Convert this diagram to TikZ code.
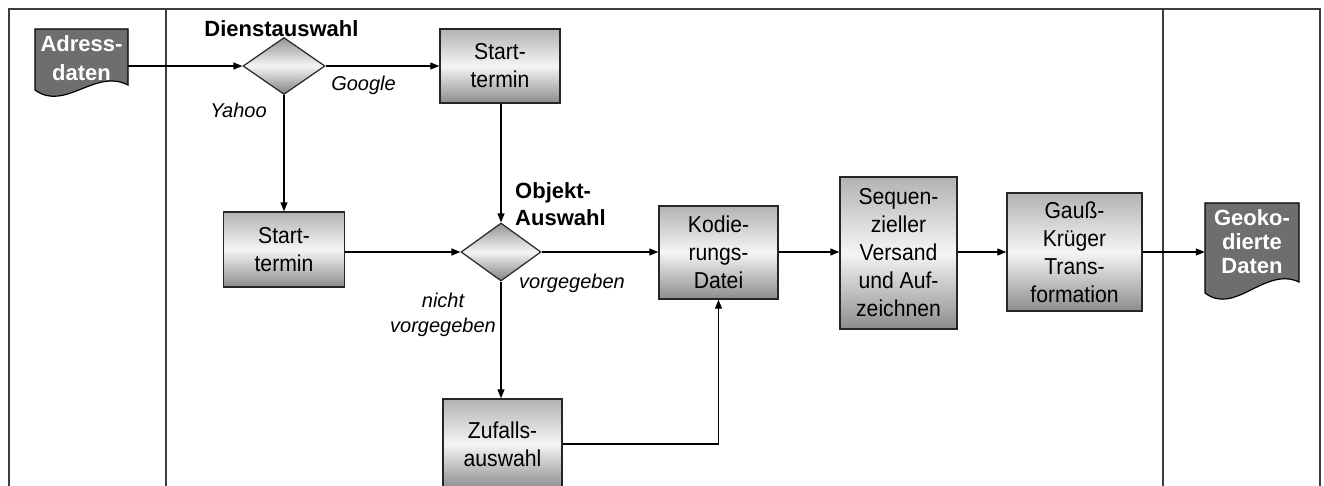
\documentclass[tikz,border=0pt]{standalone}
\usepackage{fontspec}
\setmainfont{Liberation Sans}
\newfontfamily\cfont[FakeStretch=0.92]{Liberation Sans}
\usetikzlibrary{shapes.geometric,arrows.meta}
\definecolor{docgray}{HTML}{6E6E6E}
\definecolor{framegray}{HTML}{3C3C3C}
\tikzset{
  x=1pt, y=-1pt,
  proc/.style={draw=black!85, line width=1.4pt, top color=black!30, bottom color=black!45, middle color=black!4,
    align=center, inner sep=0pt, font=\cfont\fontsize{23}{28}\selectfont},
  dec/.style={diamond, draw=black!85, line width=1.2pt, top color=black!42, bottom color=black!50, middle color=black!4,
    inner sep=0pt},
  docbox/.style={fill=docgray, draw=black, line width=1.2pt},
  doctext/.style={text=white, align=center, inner sep=0pt},
  lbl/.style={font=\bfseries\fontsize{22}{27.5}\selectfont, inner sep=0pt},
  ilbl/.style={font=\itshape\fontsize{20}{24.5}\selectfont, inner sep=0pt, align=center},
  conn/.style={line width=1.2pt, draw=black},
  arr/.style={conn, -{Triangle[length=9pt,width=7pt]}},
  frame/.style={draw=framegray, line width=2pt}
}
\begin{document}
\begin{tikzpicture}
\useasboundingbox (0,0) rectangle (1324,485);
\clip (0,0) rectangle (1324,485);
\fill[white] (0,0) rectangle (1324,485);

% frame and lanes
\draw[frame] (9,500) -- (9,9) -- (1320,9) -- (1320,500);
\draw[frame] (166,9) -- (166,500);
\draw[frame] (1163,9) -- (1163,500);

% document shapes
\draw[docbox] (35,29) -- (128,29) -- (128,85) .. controls (95,68) and (65,112) .. (35,90) -- cycle;
\node[doctext, minimum width=93pt, font=\bfseries\fontsize{22}{29}\selectfont] (adr) at (81.5,58) {Adress-\\daten};
\draw[docbox] (1205,203) -- (1299,203) -- (1299,282) .. controls (1265,266) and (1235,316) .. (1205,293) -- cycle;
\node[doctext, minimum width=94pt, font=\bfseries\fontsize{22}{24}\selectfont] (geo) at (1252,242) {Geoko-\\dierte\\Daten};

% decisions
\node[dec, minimum width=82pt, minimum height=57pt] (d1) at (284,66) {};
\node[dec, minimum width=80pt, minimum height=58pt] (d2) at (501,252) {};

% processes
\node[proc, minimum width=120pt, minimum height=74pt] (st1) at (500,66) {Start-\\termin};
\node[proc, minimum width=121pt, minimum height=75pt] (st2) at (284,249.5) {Start-\\termin};
\node[proc, minimum width=119pt, minimum height=93pt] (kod) at (718.5,252.5) {Kodie-\\rungs-\\Datei};
\node[proc, minimum width=117pt, minimum height=152pt] (seq) at (898.5,253) {Sequen-\\zieller\\Versand\\und Auf-\\zeichnen};
\node[proc, minimum width=135pt, minimum height=118pt] (gk) at (1074.5,252) {Gauß-\\Krüger\\Trans-\\formation};
\node[proc, minimum width=119pt, minimum height=90pt] (zuf) at (502.5,444) {Zufalls-\\auswahl};

% labels
\node[lbl] (l1) at (281.5,29) {Dienstauswahl};
\node[lbl, anchor=west, align=left] (l2) at (515,204) {Objekt-\\Auswahl};
\node[ilbl] (l3) at (363.5,85) {Google};
\node[ilbl] (l4) at (238.5,110) {Yahoo};
\node[ilbl] (l5) at (572,283) {vorgegeben};
\node[ilbl] (l6) at (443,315) {nicht\\vorgegeben};

% connectors
\coordinate (row) at (0,252);
\draw[arr] (adr.east |- d1.west) -- (d1.west);
\draw[arr] (d1.east) -- (st1.west |- d1.east);
\draw[arr] (d1.south) -- (st2.north -| d1.south);
\draw[arr] (st1.south -| d2.north) -- (d2.north);
\draw[arr] (st2.east |- d2.west) -- (d2.west);
\draw[arr] (d2.east) -- (kod.west |- d2.east);
\draw[arr] (d2.south) -- (zuf.north -| d2.south);
\draw[arr] (zuf.east) -| (kod.south);
\draw[arr] (kod.east |- row) -- (seq.west |- row);
\draw[arr] (seq.east |- row) -- (gk.west |- row);
\draw[arr] (gk.east |- row) -- (geo.west |- row);
\end{tikzpicture}
\end{document}
